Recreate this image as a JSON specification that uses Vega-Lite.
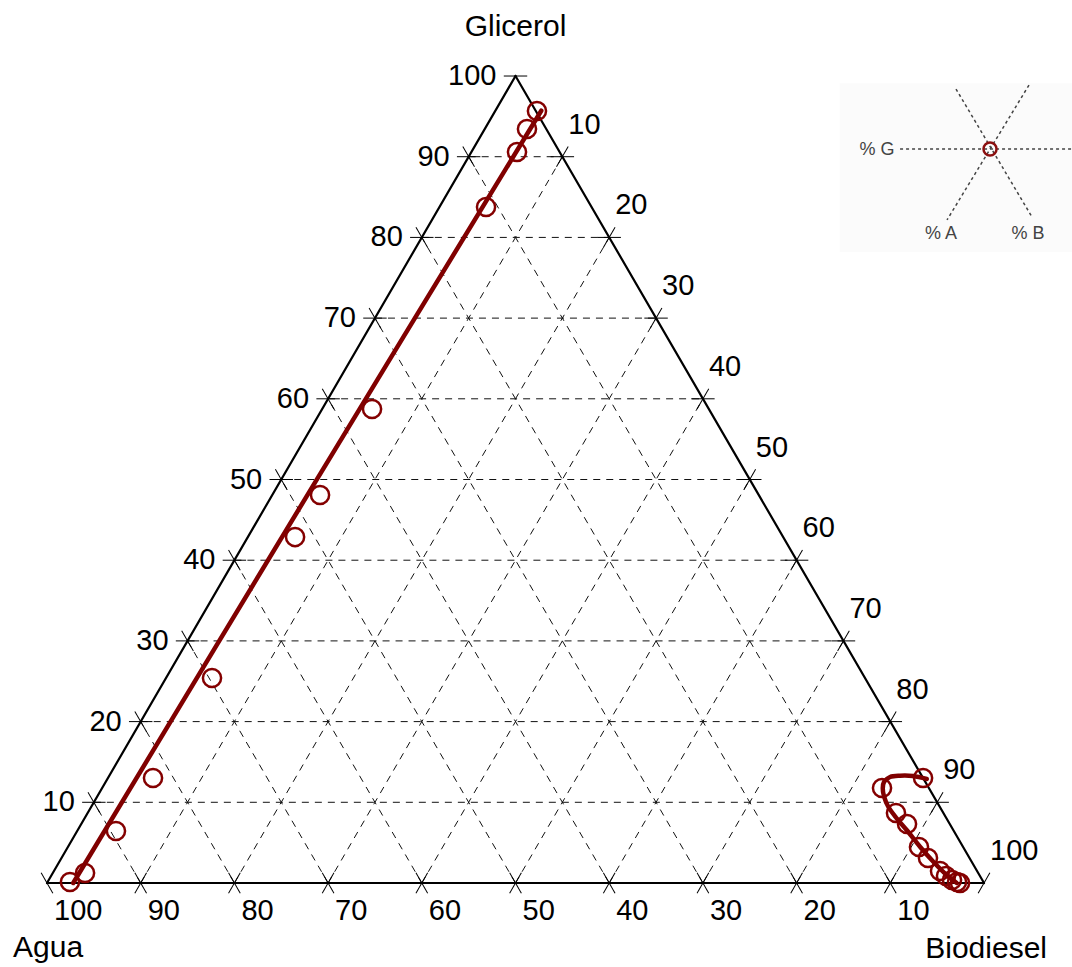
{
  "$schema": "https://vega.github.io/schema/vega-lite/v6.json",
  "width": 1072,
  "height": 967,
  "autosize": {"type": "none"},
  "padding": 0,
  "background": "#ffffff",
  "config": {"view": {"stroke": null}, "text": {"font": "Liberation Sans"}},
  "datasets": {
    "inset_box": [{"x": 84.6, "x2": 109.4, "y": 99.1, "y2": 78.2}],
    "inset_lines": [
      {"x": 91.04, "y": 90.95, "x2": 109.39, "y2": 90.95},
      {"x": 97.01, "y": 98.39, "x2": 105.12, "y2": 82.53},
      {"x": 104.8, "y": 98.88, "x2": 96.05, "y2": 82.16}
    ],
    "inset_pt": [{"x": 100.64, "y": 90.95}],
    "inset_text": [
      {"t": "% G", "x": 88.58, "y": 90.83},
      {"t": "% A", "x": 95.41, "y": 80.42},
      {"t": "% B", "x": 104.7, "y": 80.42}
    ],
    "grid": [
      {"g1": 10, "b1": 0, "g2": 10, "b2": 90},
      {"g1": 20, "b1": 0, "g2": 20, "b2": 80},
      {"g1": 30, "b1": 0, "g2": 30, "b2": 70},
      {"g1": 40, "b1": 0, "g2": 40, "b2": 60},
      {"g1": 50, "b1": 0, "g2": 50, "b2": 50},
      {"g1": 60, "b1": 0, "g2": 60, "b2": 40},
      {"g1": 70, "b1": 0, "g2": 70, "b2": 30},
      {"g1": 80, "b1": 0, "g2": 80, "b2": 20},
      {"g1": 90, "b1": 0, "g2": 90, "b2": 10},
      {"g1": 0, "b1": 10, "g2": 10, "b2": 0},
      {"g1": 0, "b1": 20, "g2": 20, "b2": 0},
      {"g1": 0, "b1": 30, "g2": 30, "b2": 0},
      {"g1": 0, "b1": 40, "g2": 40, "b2": 0},
      {"g1": 0, "b1": 50, "g2": 50, "b2": 0},
      {"g1": 0, "b1": 60, "g2": 60, "b2": 0},
      {"g1": 0, "b1": 70, "g2": 70, "b2": 0},
      {"g1": 0, "b1": 80, "g2": 80, "b2": 0},
      {"g1": 0, "b1": 90, "g2": 90, "b2": 0},
      {"g1": 0, "b1": 10, "g2": 90, "b2": 10},
      {"g1": 0, "b1": 20, "g2": 80, "b2": 20},
      {"g1": 0, "b1": 30, "g2": 70, "b2": 30},
      {"g1": 0, "b1": 40, "g2": 60, "b2": 40},
      {"g1": 0, "b1": 50, "g2": 50, "b2": 50},
      {"g1": 0, "b1": 60, "g2": 40, "b2": 60},
      {"g1": 0, "b1": 70, "g2": 30, "b2": 70},
      {"g1": 0, "b1": 80, "g2": 20, "b2": 80},
      {"g1": 0, "b1": 90, "g2": 10, "b2": 90}
    ],
    "frame": [
      {"g1": 0, "b1": 0, "g2": 0, "b2": 100},
      {"g1": 0, "b1": 100, "g2": 100, "b2": 0},
      {"g1": 100, "b1": 0, "g2": 0, "b2": 0}
    ],
    "ticks": [
      {"dir": "h", "g": 10, "b": 0}, {"dir": "h", "g": 20, "b": 0}, {"dir": "h", "g": 30, "b": 0},
      {"dir": "h", "g": 40, "b": 0}, {"dir": "h", "g": 50, "b": 0}, {"dir": "h", "g": 60, "b": 0},
      {"dir": "h", "g": 70, "b": 0}, {"dir": "h", "g": 80, "b": 0}, {"dir": "h", "g": 90, "b": 0},
      {"dir": "h", "g": 100, "b": 0},
      {"dir": "h", "g": 10, "b": 90}, {"dir": "h", "g": 20, "b": 80}, {"dir": "h", "g": 30, "b": 70},
      {"dir": "h", "g": 40, "b": 60}, {"dir": "h", "g": 50, "b": 50}, {"dir": "h", "g": 60, "b": 40},
      {"dir": "h", "g": 70, "b": 30}, {"dir": "h", "g": 80, "b": 20}, {"dir": "h", "g": 90, "b": 10},
      {"dir": "d", "g": 0, "b": 0}, {"dir": "d", "g": 0, "b": 10}, {"dir": "d", "g": 0, "b": 20},
      {"dir": "d", "g": 0, "b": 30}, {"dir": "d", "g": 0, "b": 40}, {"dir": "d", "g": 0, "b": 50},
      {"dir": "d", "g": 0, "b": 60}, {"dir": "d", "g": 0, "b": 70}, {"dir": "d", "g": 0, "b": 80},
      {"dir": "d", "g": 0, "b": 90},
      {"dir": "d", "g": 10, "b": 0}, {"dir": "d", "g": 20, "b": 0}, {"dir": "d", "g": 30, "b": 0},
      {"dir": "d", "g": 40, "b": 0}, {"dir": "d", "g": 50, "b": 0}, {"dir": "d", "g": 60, "b": 0},
      {"dir": "d", "g": 70, "b": 0}, {"dir": "d", "g": 80, "b": 0}, {"dir": "d", "g": 90, "b": 0},
      {"dir": "u", "g": 0, "b": 10}, {"dir": "u", "g": 0, "b": 20}, {"dir": "u", "g": 0, "b": 30},
      {"dir": "u", "g": 0, "b": 40}, {"dir": "u", "g": 0, "b": 50}, {"dir": "u", "g": 0, "b": 60},
      {"dir": "u", "g": 0, "b": 70}, {"dir": "u", "g": 0, "b": 80}, {"dir": "u", "g": 0, "b": 90},
      {"dir": "u", "g": 0, "b": 100},
      {"dir": "u", "g": 90, "b": 10}, {"dir": "u", "g": 80, "b": 20}, {"dir": "u", "g": 70, "b": 30},
      {"dir": "u", "g": 60, "b": 40}, {"dir": "u", "g": 50, "b": 50}, {"dir": "u", "g": 40, "b": 60},
      {"dir": "u", "g": 30, "b": 70}, {"dir": "u", "g": 20, "b": 80}, {"dir": "u", "g": 10, "b": 90}
    ],
    "pts": [
      {"g": 0.12, "b": 2.39}, {"g": 1.24, "b": 3.44}, {"g": 6.44, "b": 4.14}, {"g": 13.01, "b": 4.81},
      {"g": 25.4, "b": 4.91}, {"g": 42.87, "b": 5.04}, {"g": 48.08, "b": 5.1}, {"g": 58.74, "b": 5.32},
      {"g": 83.77, "b": 4.97}, {"g": 90.58, "b": 4.87}, {"g": 93.43, "b": 4.51}, {"g": 95.66, "b": 4.46},
      {"g": 13.01, "b": 86.99}, {"g": 11.77, "b": 83.23}, {"g": 8.67, "b": 86.27}, {"g": 7.31, "b": 88.13},
      {"g": 4.46, "b": 90.83}, {"g": 3.1, "b": 92.47}, {"g": 1.49, "b": 94.56}, {"g": 0.87, "b": 95.51},
      {"g": 0.37, "b": 96.4}, {"g": 0.12, "b": 97.06}, {"g": 0, "b": 97.44}
    ],
    "fit": [
      {"serie": "L", "i": 0, "g": 0, "b": 2.8},
      {"serie": "L", "i": 1, "g": 50.2, "b": 3.8},
      {"serie": "L", "i": 2, "g": 95.7, "b": 4.9},
      {"serie": "R", "i": 0, "g": 12.89, "b": 87.45},
      {"serie": "R", "i": 1, "g": 13.26, "b": 85.79},
      {"serie": "R", "i": 2, "g": 13.3, "b": 84.39},
      {"serie": "R", "i": 3, "g": 13.14, "b": 83.4},
      {"serie": "R", "i": 4, "g": 12.55, "b": 83.06},
      {"serie": "R", "i": 5, "g": 11.73, "b": 83.33},
      {"serie": "R", "i": 6, "g": 10.69, "b": 83.99},
      {"serie": "R", "i": 7, "g": 9.45, "b": 85.06},
      {"serie": "R", "i": 8, "g": 8.02, "b": 86.67},
      {"serie": "R", "i": 9, "g": 6.57, "b": 88.46},
      {"serie": "R", "i": 10, "g": 4.5, "b": 90.92},
      {"serie": "R", "i": 11, "g": 2.64, "b": 93.27},
      {"serie": "R", "i": 12, "g": 0.99, "b": 95.52},
      {"serie": "R", "i": 13, "g": 0, "b": 97.09}
    ],
    "labG": [
      {"v": "10", "g": 10, "b": 0}, {"v": "20", "g": 20, "b": 0}, {"v": "30", "g": 30, "b": 0},
      {"v": "40", "g": 40, "b": 0}, {"v": "50", "g": 50, "b": 0}, {"v": "60", "g": 60, "b": 0},
      {"v": "70", "g": 70, "b": 0}, {"v": "80", "g": 80, "b": 0}, {"v": "90", "g": 90, "b": 0},
      {"v": "100", "g": 100, "b": 0}
    ],
    "labB": [
      {"v": "10", "g": 90, "b": 10}, {"v": "20", "g": 80, "b": 20}, {"v": "30", "g": 70, "b": 30},
      {"v": "40", "g": 60, "b": 40}, {"v": "50", "g": 50, "b": 50}, {"v": "60", "g": 40, "b": 60},
      {"v": "70", "g": 30, "b": 70}, {"v": "80", "g": 20, "b": 80}, {"v": "90", "g": 10, "b": 90},
      {"v": "100", "g": 0, "b": 100}
    ],
    "labA": [
      {"v": "100", "g": 0, "b": 0}, {"v": "90", "g": 0, "b": 10}, {"v": "80", "g": 0, "b": 20},
      {"v": "70", "g": 0, "b": 30}, {"v": "60", "g": 0, "b": 40}, {"v": "50", "g": 0, "b": 50},
      {"v": "40", "g": 0, "b": 60}, {"v": "30", "g": 0, "b": 70}, {"v": "20", "g": 0, "b": 80},
      {"v": "10", "g": 0, "b": 90}
    ],
    "titles": [
      {"t": "Glicerol", "g": 100, "b": 0},
      {"t": "Agua", "g": 0, "b": 0},
      {"t": "Biodiesel", "g": 0, "b": 100}
    ]
  },
  "layer": [
    {
      "data": {"name": "inset_box"},
      "mark": {"type": "rect", "fill": "#fbfbfb"},
      "encoding": {
        "x": {"field": "x", "type": "quantitative", "scale": {"domain": [-5.016, 109.39], "nice": false, "zero": false}, "axis": null},
        "x2": {"field": "x2"},
        "y": {"field": "y", "type": "quantitative", "scale": {"domain": [-10.41, 109.42], "nice": false, "zero": false}, "axis": null},
        "y2": {"field": "y2"}
      }
    },
    {
      "data": {"name": "grid"},
      "transform": [
        {"calculate": "datum.b1 + datum.g1 / 2", "as": "x1"},
        {"calculate": "datum.b2 + datum.g2 / 2", "as": "x2"}
      ],
      "mark": {"type": "rule", "stroke": "#111111", "strokeWidth": 1, "strokeDash": [7, 6]},
      "encoding": {
        "x": {"field": "x1", "type": "quantitative", "scale": {"domain": [-5.016, 109.39], "nice": false, "zero": false}, "axis": null},
        "x2": {"field": "x2"},
        "y": {"field": "g1", "type": "quantitative", "scale": {"domain": [-10.41, 109.42], "nice": false, "zero": false}, "axis": null},
        "y2": {"field": "g2"}
      }
    },
    {
      "data": {"name": "frame"},
      "transform": [
        {"calculate": "datum.b1 + datum.g1 / 2", "as": "x1"},
        {"calculate": "datum.b2 + datum.g2 / 2", "as": "x2"}
      ],
      "mark": {"type": "rule", "stroke": "#000000", "strokeWidth": 2.2, "strokeCap": "round"},
      "encoding": {
        "x": {"field": "x1", "type": "quantitative", "scale": {"domain": [-5.016, 109.39], "nice": false, "zero": false}, "axis": null},
        "x2": {"field": "x2"},
        "y": {"field": "g1", "type": "quantitative", "scale": {"domain": [-10.41, 109.42], "nice": false, "zero": false}, "axis": null},
        "y2": {"field": "g2"}
      }
    },
    {
      "data": {"name": "ticks"},
      "transform": [{"filter": "datum.dir == 'h'"}, {"calculate": "datum.b + datum.g / 2", "as": "x"}],
      "mark": {"type": "point", "shape": "stroke", "filled": false, "stroke": "#000000", "strokeWidth": 1, "size": 550, "opacity": 1, "angle": 0},
      "encoding": {
        "x": {"field": "x", "type": "quantitative", "scale": {"domain": [-5.016, 109.39], "nice": false, "zero": false}, "axis": null},
        "y": {"field": "g", "type": "quantitative", "scale": {"domain": [-10.41, 109.42], "nice": false, "zero": false}, "axis": null}
      }
    },
    {
      "data": {"name": "ticks"},
      "transform": [{"filter": "datum.dir == 'd'"}, {"calculate": "datum.b + datum.g / 2", "as": "x"}],
      "mark": {"type": "point", "shape": "stroke", "filled": false, "stroke": "#000000", "strokeWidth": 1, "size": 550, "opacity": 1, "angle": 60},
      "encoding": {
        "x": {"field": "x", "type": "quantitative", "scale": {"domain": [-5.016, 109.39], "nice": false, "zero": false}, "axis": null},
        "y": {"field": "g", "type": "quantitative", "scale": {"domain": [-10.41, 109.42], "nice": false, "zero": false}, "axis": null}
      }
    },
    {
      "data": {"name": "ticks"},
      "transform": [{"filter": "datum.dir == 'u'"}, {"calculate": "datum.b + datum.g / 2", "as": "x"}],
      "mark": {"type": "point", "shape": "stroke", "filled": false, "stroke": "#000000", "strokeWidth": 1, "size": 550, "opacity": 1, "angle": -60},
      "encoding": {
        "x": {"field": "x", "type": "quantitative", "scale": {"domain": [-5.016, 109.39], "nice": false, "zero": false}, "axis": null},
        "y": {"field": "g", "type": "quantitative", "scale": {"domain": [-10.41, 109.42], "nice": false, "zero": false}, "axis": null}
      }
    },
    {
      "data": {"name": "pts"},
      "transform": [{"calculate": "datum.b + datum.g / 2", "as": "x"}],
      "mark": {"type": "point", "shape": "circle", "filled": false, "stroke": "#840000", "strokeWidth": 2.5, "size": 330, "opacity": 1},
      "encoding": {
        "x": {"field": "x", "type": "quantitative", "scale": {"domain": [-5.016, 109.39], "nice": false, "zero": false}, "axis": null},
        "y": {"field": "g", "type": "quantitative", "scale": {"domain": [-10.41, 109.42], "nice": false, "zero": false}, "axis": null}
      }
    },
    {
      "data": {"name": "fit"},
      "transform": [{"calculate": "datum.b + datum.g / 2", "as": "x"}],
      "mark": {"type": "line", "stroke": "#800000", "strokeWidth": 4.5, "interpolate": "catmull-rom", "strokeCap": "round"},
      "encoding": {
        "x": {"field": "x", "type": "quantitative", "scale": {"domain": [-5.016, 109.39], "nice": false, "zero": false}, "axis": null},
        "y": {"field": "g", "type": "quantitative", "scale": {"domain": [-10.41, 109.42], "nice": false, "zero": false}, "axis": null},
        "detail": {"field": "serie", "type": "nominal"},
        "order": {"field": "i", "type": "quantitative"}
      }
    },
    {
      "data": {"name": "labG"},
      "transform": [{"calculate": "datum.b + datum.g / 2", "as": "x"}],
      "mark": {"type": "text", "fontSize": 29, "align": "right", "baseline": "middle", "dx": -19, "dy": 0, "color": "#000000"},
      "encoding": {
        "x": {"field": "x", "type": "quantitative", "scale": {"domain": [-5.016, 109.39], "nice": false, "zero": false}, "axis": null},
        "y": {"field": "g", "type": "quantitative", "scale": {"domain": [-10.41, 109.42], "nice": false, "zero": false}, "axis": null},
        "text": {"field": "v", "type": "nominal"}
      }
    },
    {
      "data": {"name": "labB"},
      "transform": [{"calculate": "datum.b + datum.g / 2", "as": "x"}],
      "mark": {"type": "text", "fontSize": 29, "align": "left", "baseline": "middle", "dx": 6, "dy": -32, "color": "#000000"},
      "encoding": {
        "x": {"field": "x", "type": "quantitative", "scale": {"domain": [-5.016, 109.39], "nice": false, "zero": false}, "axis": null},
        "y": {"field": "g", "type": "quantitative", "scale": {"domain": [-10.41, 109.42], "nice": false, "zero": false}, "axis": null},
        "text": {"field": "v", "type": "nominal"}
      }
    },
    {
      "data": {"name": "labA"},
      "transform": [{"calculate": "datum.b + datum.g / 2", "as": "x"}],
      "mark": {"type": "text", "fontSize": 29, "align": "left", "baseline": "middle", "dx": 7, "dy": 28, "color": "#000000"},
      "encoding": {
        "x": {"field": "x", "type": "quantitative", "scale": {"domain": [-5.016, 109.39], "nice": false, "zero": false}, "axis": null},
        "y": {"field": "g", "type": "quantitative", "scale": {"domain": [-10.41, 109.42], "nice": false, "zero": false}, "axis": null},
        "text": {"field": "v", "type": "nominal"}
      }
    },
    {
      "data": {"name": "titles"},
      "transform": [{"filter": "datum.t == 'Glicerol'"}, {"calculate": "datum.b + datum.g / 2", "as": "x"}],
      "mark": {"type": "text", "fontSize": 30, "align": "center", "baseline": "middle", "dy": -49, "color": "#000000"},
      "encoding": {
        "x": {"field": "x", "type": "quantitative", "scale": {"domain": [-5.016, 109.39], "nice": false, "zero": false}, "axis": null},
        "y": {"field": "g", "type": "quantitative", "scale": {"domain": [-10.41, 109.42], "nice": false, "zero": false}, "axis": null},
        "text": {"field": "t", "type": "nominal"}
      }
    },
    {
      "data": {"name": "titles"},
      "transform": [{"filter": "datum.t == 'Agua'"}, {"calculate": "datum.b + datum.g / 2", "as": "x"}],
      "mark": {"type": "text", "fontSize": 30, "align": "left", "baseline": "middle", "dx": -34, "dy": 65, "color": "#000000"},
      "encoding": {
        "x": {"field": "x", "type": "quantitative", "scale": {"domain": [-5.016, 109.39], "nice": false, "zero": false}, "axis": null},
        "y": {"field": "g", "type": "quantitative", "scale": {"domain": [-10.41, 109.42], "nice": false, "zero": false}, "axis": null},
        "text": {"field": "t", "type": "nominal"}
      }
    },
    {
      "data": {"name": "titles"},
      "transform": [{"filter": "datum.t == 'Biodiesel'"}, {"calculate": "datum.b + datum.g / 2", "as": "x"}],
      "mark": {"type": "text", "fontSize": 30, "align": "right", "baseline": "middle", "dx": 63, "dy": 66, "color": "#000000"},
      "encoding": {
        "x": {"field": "x", "type": "quantitative", "scale": {"domain": [-5.016, 109.39], "nice": false, "zero": false}, "axis": null},
        "y": {"field": "g", "type": "quantitative", "scale": {"domain": [-10.41, 109.42], "nice": false, "zero": false}, "axis": null},
        "text": {"field": "t", "type": "nominal"}
      }
    },
    {
      "data": {"name": "inset_lines"},
      "mark": {"type": "rule", "stroke": "#444444", "strokeWidth": 1.5, "strokeDash": [3, 3]},
      "encoding": {
        "x": {"field": "x", "type": "quantitative", "scale": {"domain": [-5.016, 109.39], "nice": false, "zero": false}, "axis": null},
        "x2": {"field": "x2"},
        "y": {"field": "y", "type": "quantitative", "scale": {"domain": [-10.41, 109.42], "nice": false, "zero": false}, "axis": null},
        "y2": {"field": "y2"}
      }
    },
    {
      "data": {"name": "inset_pt"},
      "mark": {"type": "point", "shape": "circle", "filled": false, "stroke": "#8b1010", "strokeWidth": 2.5, "size": 170, "opacity": 1},
      "encoding": {
        "x": {"field": "x", "type": "quantitative", "scale": {"domain": [-5.016, 109.39], "nice": false, "zero": false}, "axis": null},
        "y": {"field": "y", "type": "quantitative", "scale": {"domain": [-10.41, 109.42], "nice": false, "zero": false}, "axis": null}
      }
    },
    {
      "data": {"name": "inset_text"},
      "mark": {"type": "text", "fontSize": 18, "align": "center", "baseline": "middle", "color": "#444444"},
      "encoding": {
        "x": {"field": "x", "type": "quantitative", "scale": {"domain": [-5.016, 109.39], "nice": false, "zero": false}, "axis": null},
        "y": {"field": "y", "type": "quantitative", "scale": {"domain": [-10.41, 109.42], "nice": false, "zero": false}, "axis": null},
        "text": {"field": "t", "type": "nominal"}
      }
    }
  ]
}
